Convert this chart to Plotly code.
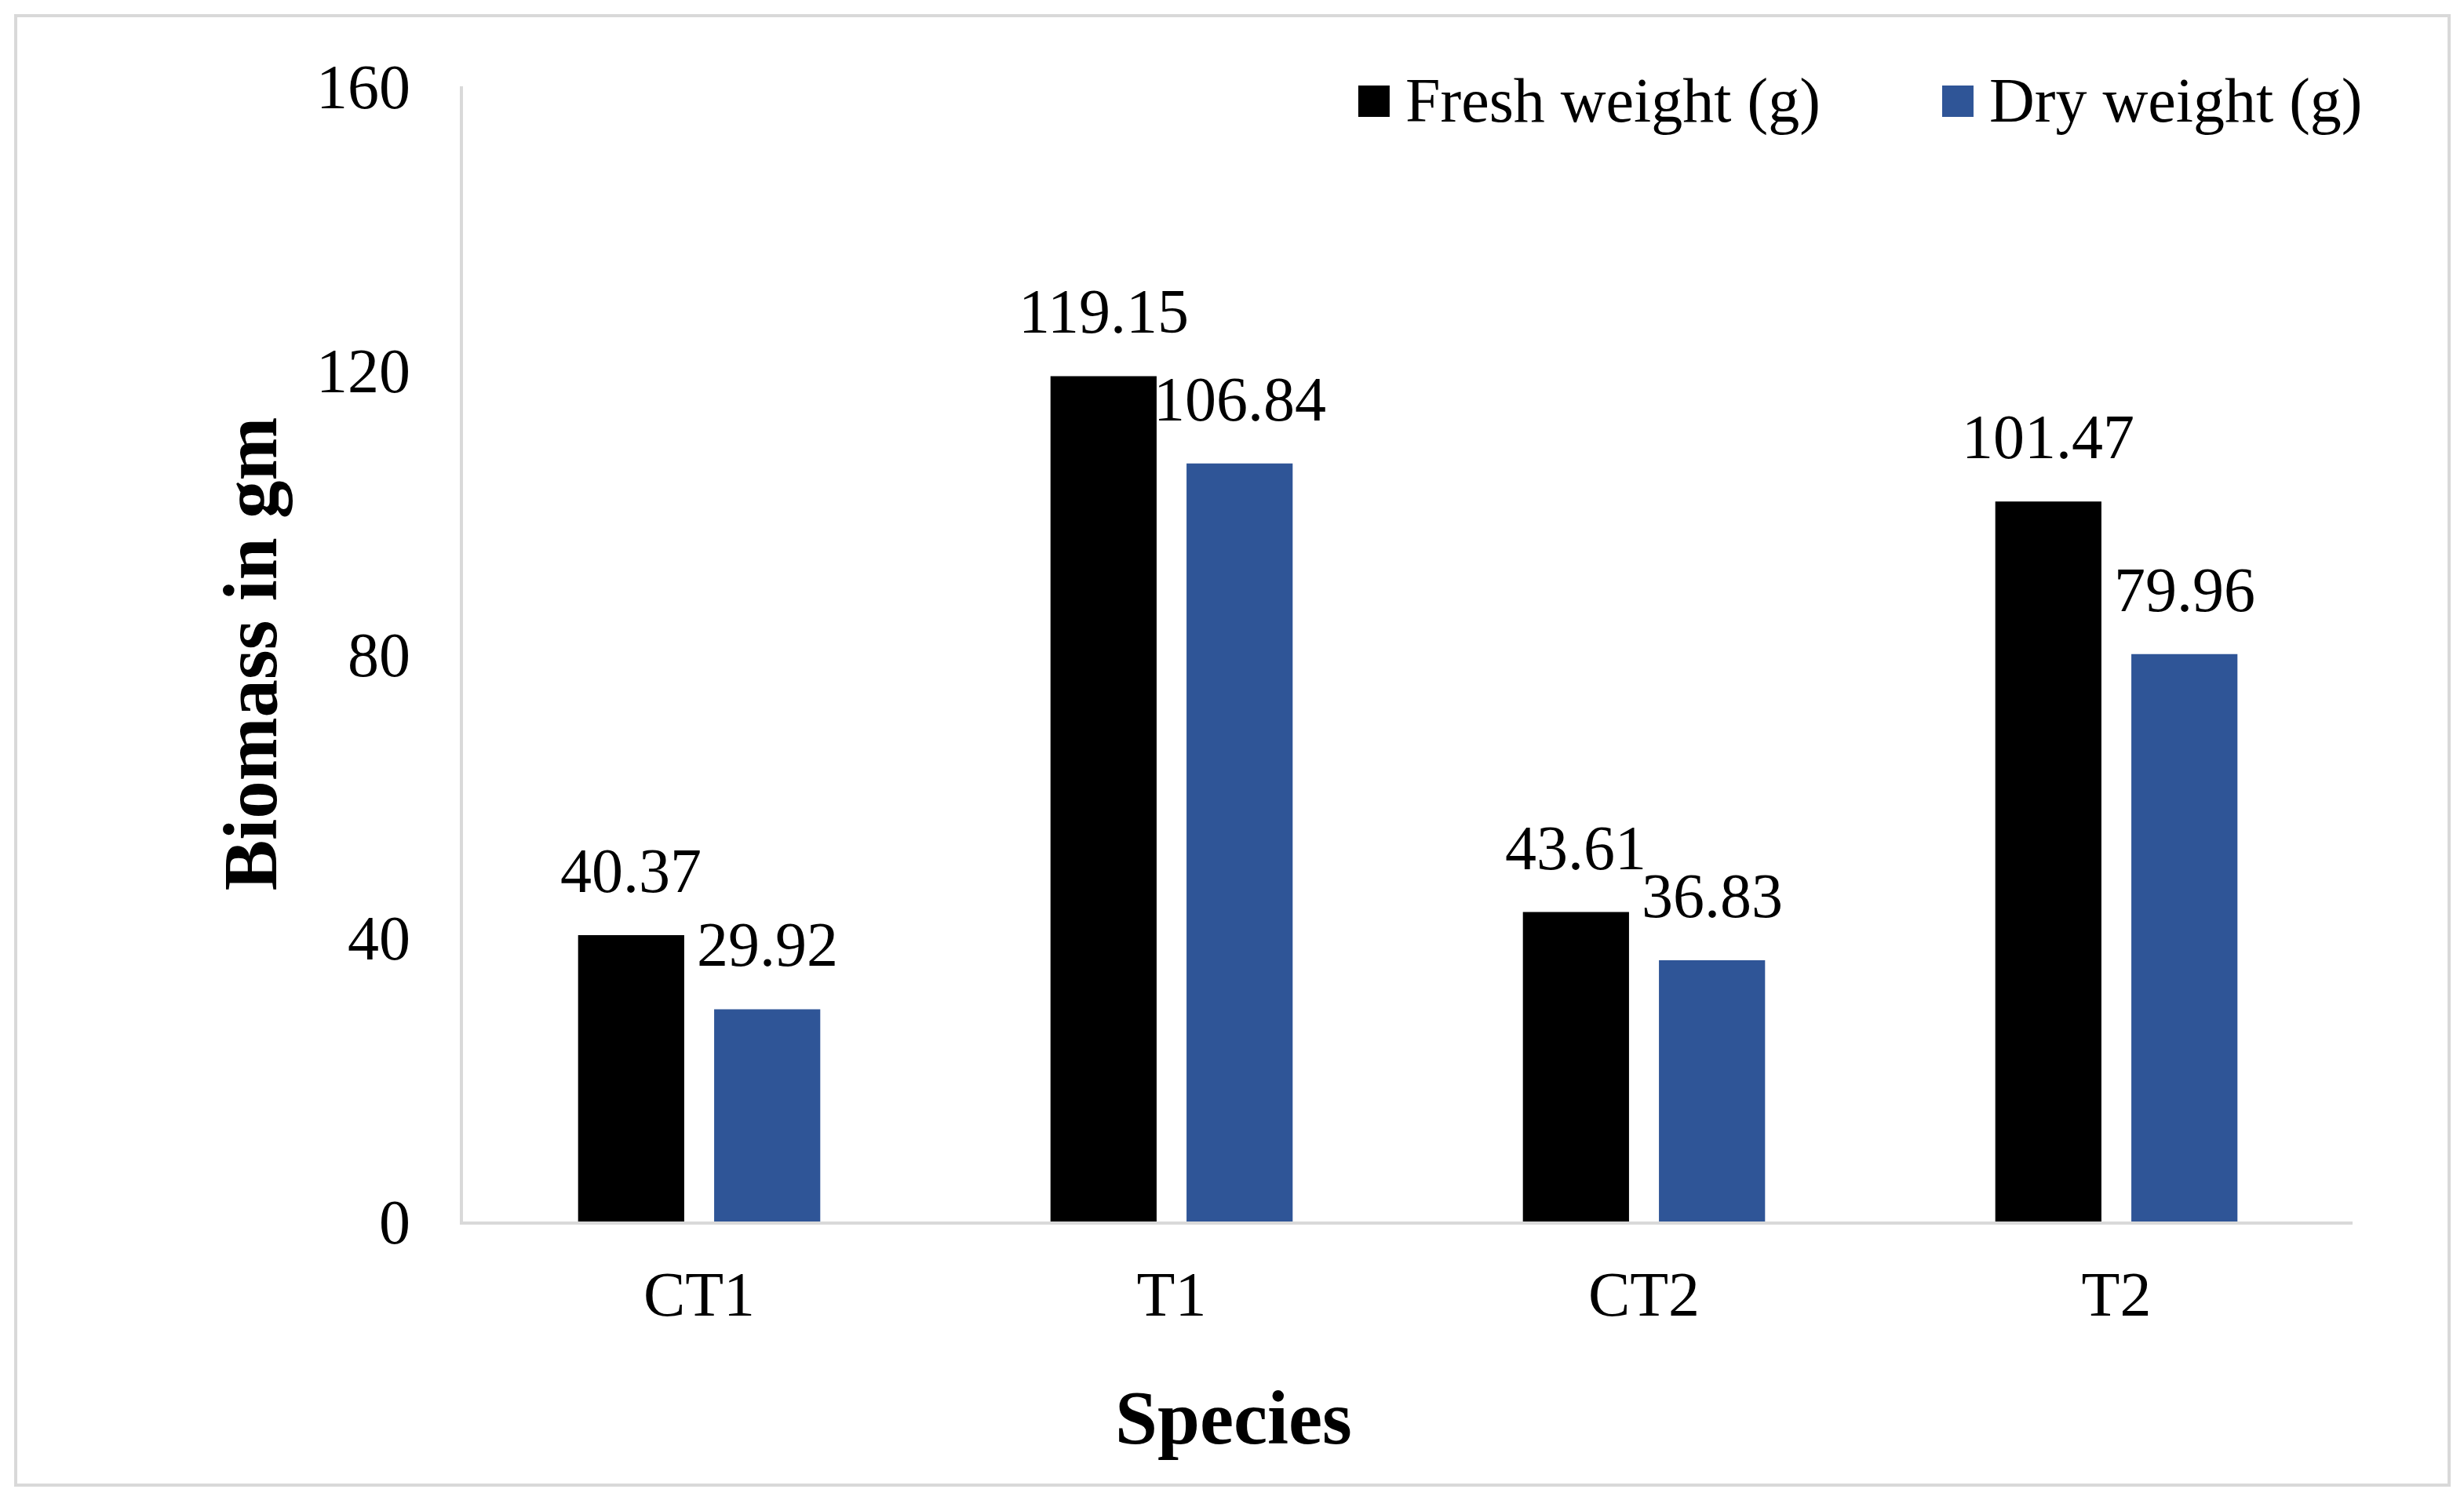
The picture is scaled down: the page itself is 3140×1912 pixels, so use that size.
import plotly.graph_objects as go

# chart data
species = ["CT1", "T1", "CT2", "T2"]
fresh_weight = [40.37, 119.15, 43.61, 101.47]
dry_weight = [29.92, 106.84, 36.83, 79.96]
series_names = ["Fresh weight (g)", "Dry weight (g)"]
y_ticks = [0, 40, 80, 120, 160]

FONT = "Liberation Serif, Times New Roman, serif"
BLACK = "#000000"
BLUE = "#2F5597"
GRID = "#D9D9D9"

fig = go.Figure()
fig.add_trace(go.Bar(name=series_names[0], x=species, y=fresh_weight,
                     marker=dict(color=BLACK, line=dict(width=0))))
fig.add_trace(go.Bar(name=series_names[1], x=species, y=dry_weight,
                     marker=dict(color=BLUE, line=dict(width=0))))

# data labels above each bar (centre of each bar slot)
half_slot = (1 - 0.424) / 4
annotations = []
for values, side in [(fresh_weight, -1), (dry_weight, 1)]:
    for i, v in enumerate(values):
        annotations.append(dict(x=i + side * half_slot, y=v, xref="x", yref="y",
                                text="{:.2f}".format(v), showarrow=False,
                                yanchor="bottom", yshift=36,
                                font=dict(family=FONT, size=80, color=BLACK)))

# x axis title sits centred on the whole chart, not on the plot area
annotations.append(dict(x=0.4078, y=-0.173, xref="paper", yref="paper",
                        text="<b>Species</b>", showarrow=False,
                        xanchor="center", yanchor="middle",
                        font=dict(family=FONT, size=97, color=BLACK)))

# outer chart border
shapes = [dict(type="rect", xref="paper", yref="paper",
               x0=-0.2367, x1=1.0511, y0=-0.2322, y1=1.0622,
               line=dict(color=GRID, width=4), fillcolor="rgba(0,0,0,0)",
               layer="below")]

# legend drawn by hand so the square keys can be as large as in the original
legend_x = [0.4821, 0.7911]
for name, color, lx in zip(series_names, [BLACK, BLUE], legend_x):
    shapes.append(dict(type="rect", xref="paper", yref="paper",
                       xsizemode="pixel", ysizemode="pixel",
                       xanchor=lx, yanchor=0.9869,
                       x0=-20, x1=20, y0=-20, y1=20,
                       fillcolor=color, line=dict(width=0)))
    annotations.append(dict(x=lx, y=0.9869, xref="paper", yref="paper",
                            xshift=38, text=name, showarrow=False,
                            xanchor="left", yanchor="middle",
                            font=dict(family=FONT, size=80, color=BLACK)))

fig.update_layout(
    width=3124,
    height=1896,
    paper_bgcolor="white",
    plot_bgcolor="white",
    margin=dict(l=582, r=134, t=102, b=347, autoexpand=False),
    barmode="group",
    bargap=0.424,
    bargroupgap=0.22,
    showlegend=False,
    font=dict(family=FONT, size=80, color=BLACK),
    annotations=annotations,
    shapes=shapes,
)

fig.update_xaxes(
    showline=True, linecolor=GRID, linewidth=4, showgrid=False, ticks="",
    ticklabelstandoff=20, tickfont=dict(family=FONT, size=80, color=BLACK),
)
fig.update_yaxes(
    title=dict(text="<b>Biomass in gm</b>", font=dict(family=FONT, size=97, color=BLACK), standoff=19),
    range=[0, 160], tickvals=y_ticks, showline=True, linecolor=GRID, linewidth=4,
    showgrid=False, zeroline=False, ticks="", ticklabelstandoff=47,
    tickfont=dict(family=FONT, size=80, color=BLACK),
)

fig.write_html("out.html")
